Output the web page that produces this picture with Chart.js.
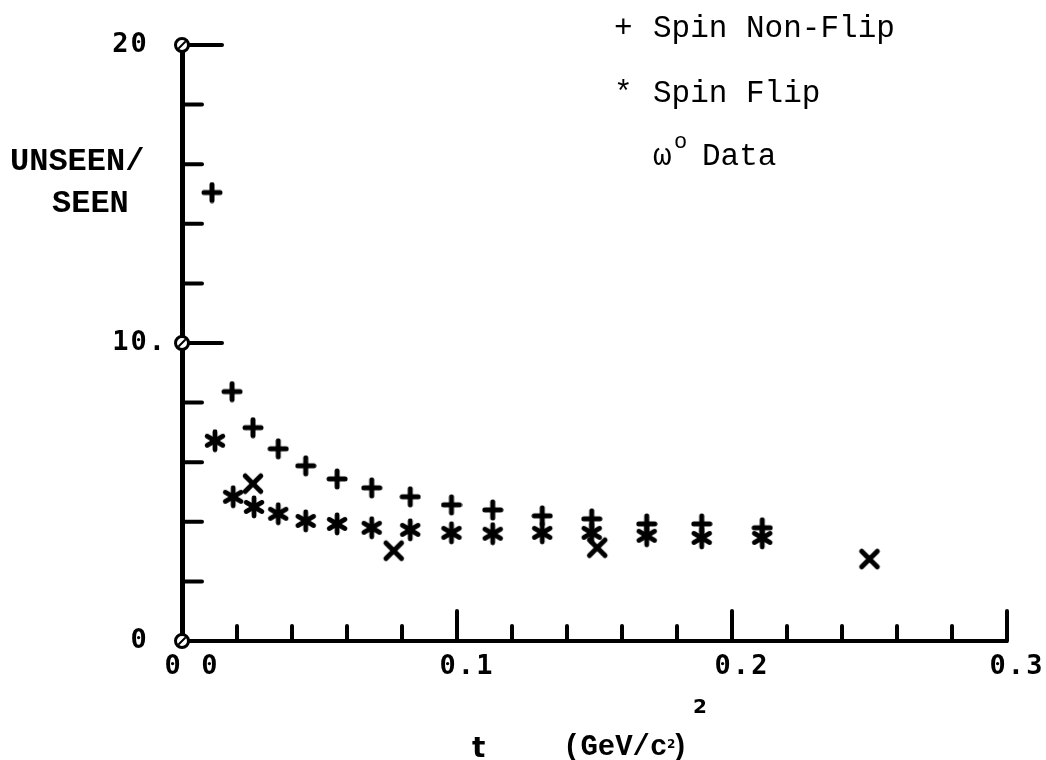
<!DOCTYPE html>
<html>
<head>
<meta charset="utf-8">
<script src="https://cdn.jsdelivr.net/npm/chart.js@4"></script>
<style>
html,body{margin:0;padding:0;background:#fff;}
#wrap{width:1046px;height:760px;}
</style>
</head>
<body>
<div id="wrap"><canvas id="c" width="1046" height="760"></canvas></div>
<script>
// ---- data ----
const nonFlipT = [0.0109, 0.0182, 0.0258, 0.035, 0.045, 0.0564, 0.069, 0.083, 0.098, 0.113, 0.131, 0.149, 0.169, 0.189, 0.211];
const nonFlipR = [15.05, 8.37, 7.16, 6.45, 5.88, 5.44, 5.14, 4.84, 4.57, 4.40, 4.20, 4.10, 3.93, 3.93, 3.80];
const flipT = [0.012, 0.0186, 0.0262, 0.035, 0.045, 0.0564, 0.069, 0.083, 0.098, 0.113, 0.131, 0.149, 0.169, 0.189, 0.211];
const flipR = [6.72, 4.84, 4.50, 4.27, 4.03, 3.93, 3.80, 3.73, 3.63, 3.60, 3.63, 3.63, 3.53, 3.46, 3.46];
const omegaT = [0.0258, 0.077, 0.151, 0.25];
const omegaR = [5.28, 3.03, 3.13, 2.75];

const seriesLabels = ['Spin Non-Flip', 'Spin Flip', 'ω° Data'];
const legendSymbols = ['+', '*'];
const omegaLegendParts = ['ω', 'o', 'Data'];
const yTickLabels = {0: '0 ', 10: '10.', 20: '20 '};
const xTickLabels = {'0': '0 0', '0.1': '0.1', '0.2': '0.2', '0.3': '0.3'};
const yTitleLines = ['UNSEEN/', 'SEEN'];
const xTitleParts = ['t', '(GeV/c', '2', ')', '2'];
const xRange = [0, 0.3], xMinorStep = 0.02, xMajorStep = 0.1;
const yRange = [0, 20], yMinorStep = 2, yMajorStep = 10;
const circleValuesY = [0, 10, 20];

// ---- marker images ----
function makeMarker(kind, size, lw) {
  const c = document.createElement('canvas');
  c.width = c.height = size;
  const g = c.getContext('2d');
  g.strokeStyle = '#000'; g.lineWidth = lw; g.lineCap = 'round';
  const m = size / 2, r = size / 2 - lw / 2 - 0.5;
  const angles = kind === 'plus' ? [0, 90] : kind === 'x' ? [45, 135] : [90, 30, 150];
  for (const a of angles) {
    const t = a * Math.PI / 180;
    g.beginPath();
    g.moveTo(m - r * Math.cos(t), m - r * Math.sin(t));
    g.lineTo(m + r * Math.cos(t), m + r * Math.sin(t));
    g.stroke();
  }
  return c;
}
const plusImg = makeMarker('plus', 22, 5);
const starImg = makeMarker('star', 24, 4.8);
const xImg = makeMarker('x', 28, 5);

const pts = (xs, ys) => xs.map((x, i) => ({x: x, y: ys[i]}));
const isMultiple = (v, step) => Math.abs(v / step - Math.round(v / step)) < 1e-6;

const decor = {
  id: 'decor',
  beforeDraw(chart) {
    const ctx = chart.ctx;
    ctx.save(); ctx.fillStyle = '#fff'; ctx.fillRect(0, 0, chart.width, chart.height); ctx.restore();
    ctx.letterSpacing = '2px';
  },
  afterDraw(chart) {
    const ctx = chart.ctx, xs = chart.scales.x, ys = chart.scales.y;
    ctx.save();
    ctx.letterSpacing = '0px';
    ctx.strokeStyle = '#000'; ctx.fillStyle = '#000'; ctx.lineCap = 'round';
    const x0 = xs.getPixelForValue(xRange[0]);
    const y0 = ys.getPixelForValue(yRange[0]);
    // inward ticks on y axis
    ctx.lineWidth = 4;
    const ny = Math.round((yRange[1] - yRange[0]) / yMinorStep);
    for (let i = 1; i <= ny; i++) {
      const v = yRange[0] + i * yMinorStep;
      const py = ys.getPixelForValue(v);
      const len = isMultiple(v, yMajorStep) ? 40 : 20;
      ctx.beginPath(); ctx.moveTo(x0, py); ctx.lineTo(x0 + len, py); ctx.stroke();
    }
    // inward ticks on x axis
    const nx = Math.round((xRange[1] - xRange[0]) / xMinorStep);
    for (let i = 1; i <= nx; i++) {
      const v = xRange[0] + i * xMinorStep;
      const px = xs.getPixelForValue(v);
      const len = isMultiple(v, xMajorStep) ? 30 : 15;
      ctx.beginPath(); ctx.moveTo(px, y0); ctx.lineTo(px, y0 - len); ctx.stroke();
    }
    // plotter origin circles
    const circ = (cx, cy) => {
      ctx.lineWidth = 3; ctx.fillStyle = '#fff';
      ctx.beginPath(); ctx.arc(cx, cy, 6.5, 0, Math.PI * 2); ctx.fill(); ctx.stroke();
      ctx.lineWidth = 2;
      ctx.beginPath(); ctx.moveTo(cx - 3, cy + 3); ctx.lineTo(cx + 3, cy - 3); ctx.stroke();
    };
    for (const v of circleValuesY) circ(x0, ys.getPixelForValue(v));
    ctx.fillStyle = '#000';
    // y title
    ctx.textBaseline = 'alphabetic'; ctx.textAlign = 'left';
    ctx.font = 'bold 32px "Liberation Mono", monospace';
    ctx.fillText(yTitleLines[0], 10, 170);
    ctx.fillText(yTitleLines[1], 52, 212);
    // x title
    ctx.font = 'bold 28px "DejaVu Sans", sans-serif';
    ctx.fillText(xTitleParts[0], 472, 757);
    ctx.font = 'bold 29px "Liberation Mono", monospace';
    ctx.fillText(xTitleParts[1], 563, 755);
    ctx.font = 'bold 12px "DejaVu Sans", sans-serif';
    ctx.fillText(xTitleParts[2], 667, 748);
    ctx.font = 'bold 29px "Liberation Mono", monospace';
    ctx.fillText(xTitleParts[3], 671, 755);
    ctx.font = 'bold 20px "DejaVu Sans", sans-serif';
    ctx.fillText(xTitleParts[4], 693, 713);
    // legend
    ctx.font = '31px "Liberation Mono", monospace';
    ctx.fillText(legendSymbols[0], 614, 37);
    ctx.fillText(seriesLabels[0], 653, 37);
    ctx.fillText(legendSymbols[1], 614, 102);
    ctx.fillText(seriesLabels[1], 653, 102);
    ctx.fillText(omegaLegendParts[0], 653, 165);
    ctx.font = '22px "Liberation Mono", monospace';
    ctx.fillText(omegaLegendParts[1], 674, 148);
    ctx.font = '31px "Liberation Mono", monospace';
    ctx.fillText(omegaLegendParts[2], 702, 165);
    ctx.restore();
  }
};

new Chart(document.getElementById('c'), {
  type: 'scatter',
  data: {
    datasets: [
      {label: seriesLabels[0], data: pts(nonFlipT, nonFlipR), pointStyle: plusImg, pointRadius: 10},
      {label: seriesLabels[1], data: pts(flipT, flipR), pointStyle: starImg, pointRadius: 10},
      {label: seriesLabels[2], data: pts(omegaT, omegaR), pointStyle: xImg, pointRadius: 12}
    ]
  },
  options: {
    responsive: false,
    animation: false,
    events: [],
    layout: {padding: {top: 45, right: 39, left: 0, bottom: 0}},
    plugins: {legend: {display: false}, tooltip: {enabled: false}},
    scales: {
      x: {
        type: 'linear', min: xRange[0], max: xRange[1],
        grid: {display: false, drawTicks: false},
        border: {display: true, color: '#000', width: 4},
        ticks: {
          stepSize: xMajorStep, autoSkip: false, color: '#000', padding: 10, labelOffset: 10,
          font: {family: '"DejaVu Sans Mono", monospace', size: 27, weight: 'bold'},
          callback: (v) => xTickLabels[String(Math.round(v * 100) / 100)] || ''
        },
        afterFit: (s) => { s.height = 119; s.paddingLeft = 0; s.paddingRight = 0; }
      },
      y: {
        type: 'linear', min: yRange[0], max: yRange[1],
        grid: {display: false, drawTicks: false},
        border: {display: true, color: '#000', width: 5},
        ticks: {
          stepSize: yMajorStep, autoSkip: false, color: '#000', padding: 15,
          font: {family: '"DejaVu Sans Mono", monospace', size: 27, weight: 'bold'},
          callback: (v) => yTickLabels[v] !== undefined ? yTickLabels[v] : ''
        },
        afterFit: (s) => { s.width = 182; s.paddingTop = 0; s.paddingBottom = 0; }
      }
    }
  },
  plugins: [decor]
});
</script>
</body>
</html>
